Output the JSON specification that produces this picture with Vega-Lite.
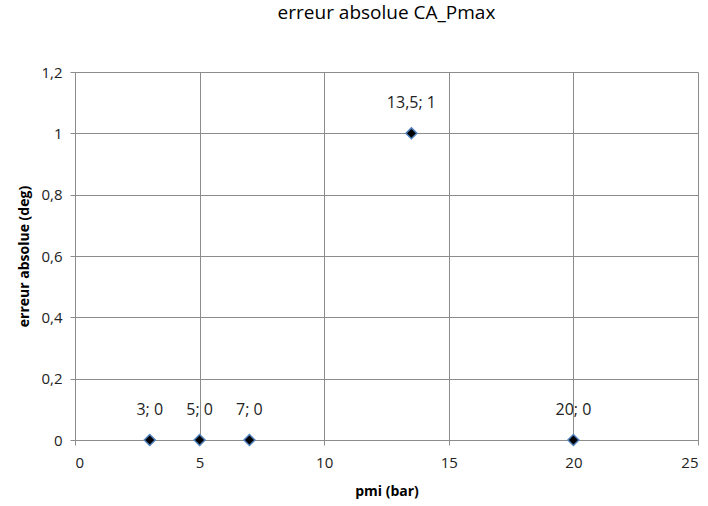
{
  "$schema": "https://vega.github.io/schema/vega-lite/v6.json",
  "width": 623,
  "height": 368,
  "autosize": "none",
  "padding": {"left": 75, "top": 72, "right": 10, "bottom": 66},
  "background": "white",
  "title": {
    "text": "erreur absolue CA_Pmax",
    "font": "Open Sans",
    "fontSize": 19,
    "fontWeight": "normal",
    "color": "#000000",
    "anchor": "middle",
    "offset": 42
  },
  "data": {
    "values": [
      {"pmi": 3, "err": 0, "label": "3; 0"},
      {"pmi": 5, "err": 0, "label": "5; 0"},
      {"pmi": 7, "err": 0, "label": "7; 0"},
      {"pmi": 13.5, "err": 1, "label": "13,5; 1"},
      {"pmi": 20, "err": 0, "label": "20; 0"}
    ]
  },
  "config": {
    "view": {"stroke": null},
    "axis": {
      "labelFont": "Open Sans",
      "labelFontSize": 15,
      "labelColor": "#222222",
      "titleFont": "Open Sans",
      "titleFontSize": 14,
      "titleFontWeight": "bold",
      "titleColor": "#000000",
      "gridColor": "#8c8c8c",
      "gridOpacity": 1,
      "domainColor": "#8c8c8c",
      "tickColor": "#8c8c8c",
      "tickSize": 5
    }
  },
  "layer": [
    {
      "mark": {"type": "point", "shape": "diamond", "filled": true, "fill": "#000000", "stroke": "#4f81bd", "strokeWidth": 1.5, "size": 120, "opacity": 1},
      "encoding": {
        "x": {
          "field": "pmi", "type": "quantitative",
          "scale": {"domain": [0, 25], "nice": false, "zero": true},
          "axis": {"values": [0, 5, 10, 15, 20, 25], "title": "pmi (bar)", "labelPadding": 10, "titlePadding": 14, "grid": true}
        },
        "y": {
          "field": "err", "type": "quantitative",
          "scale": {"domain": [0, 1.2], "nice": false},
          "axis": {"values": [0, 0.2, 0.4, 0.6, 0.8, 1, 1.2], "format": ".1~f", "labelExpr": "replace(datum.label, '.', ',')", "title": "erreur absolue (deg)", "labelPadding": 8, "titlePadding": 9, "grid": true}
        }
      }
    },
    {
      "mark": {"type": "text", "dy": -30, "font": "Open Sans", "fontSize": 16, "color": "#222222"},
      "encoding": {
        "x": {"field": "pmi", "type": "quantitative"},
        "y": {"field": "err", "type": "quantitative"},
        "text": {"field": "label"}
      }
    }
  ]
}
